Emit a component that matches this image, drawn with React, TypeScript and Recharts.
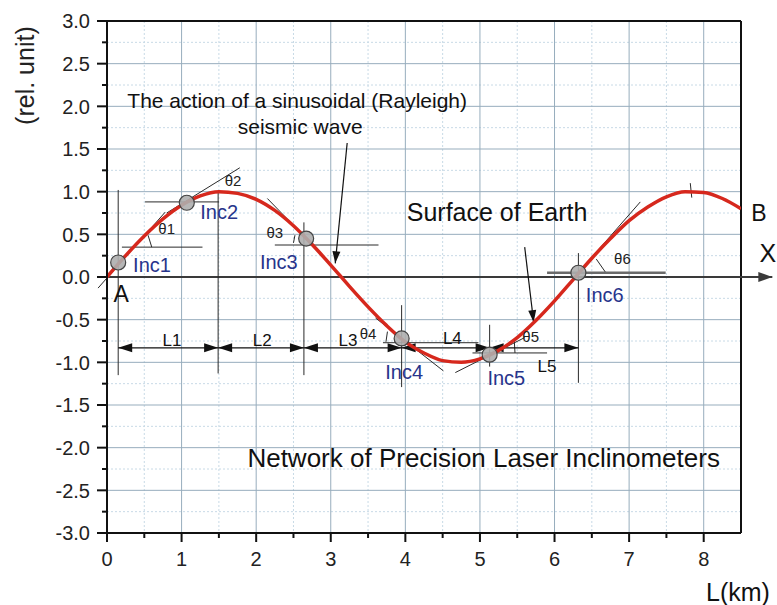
import React from "react";
import {
  ComposedChart,
  Line,
  XAxis,
  YAxis,
  CartesianGrid,
  ReferenceLine,
  ReferenceDot,
} from "recharts";

// wave, 0.25 km step
const waveX = [
  0, 0.25, 0.5, 0.75, 1, 1.25, 1.5, 1.75, 2, 2.25, 2.5, 2.75, 3, 3.25, 3.5,
  3.75, 4, 4.25, 4.5, 4.75, 5, 5.25, 5.5, 5.75, 6, 6.25, 6.5, 6.75, 7, 7.25,
  7.5, 7.75, 8, 8.25, 8.5,
];
const waveY = [
  0, 0.25, 0.48, 0.68, 0.84, 0.95, 1.0, 0.98, 0.91, 0.78, 0.6, 0.38, 0.14,
  -0.11, -0.35, -0.57, -0.76, -0.89, -0.98, -1.0, -0.96, -0.86, -0.71, -0.51,
  -0.28, -0.03, 0.22, 0.45, 0.66, 0.82, 0.94, 1.0, 0.99, 0.92, 0.8,
];

const xTicks = [0, 0.5, 1, 1.5, 2, 2.5, 3, 3.5, 4, 4.5, 5, 5.5, 6, 6.5, 7, 7.5, 8];
const yTicks = [
  -3, -2.75, -2.5, -2.25, -2, -1.75, -1.5, -1.25, -1, -0.75, -0.5, -0.25, 0,
  0.25, 0.5, 0.75, 1, 1.25, 1.5, 1.75, 2, 2.25, 2.5, 2.75, 3,
];
const xMajor = [0, 1, 2, 3, 4, 5, 6, 7, 8];
const xMinor = [0.5, 1.5, 2.5, 3.5, 4.5, 5.5, 6.5, 7.5];
const yMajor = [-3, -2.5, -2, -1.5, -1, -0.5, 0, 0.5, 1, 1.5, 2, 2.5, 3];
const yMinor = [
  -2.75, -2.25, -1.75, -1.25, -0.75, -0.25, 0.25, 0.75, 1.25, 1.75, 2.25, 2.75,
];

// inclinometers
const incNames = ["Inc1", "Inc2", "Inc3", "Inc4", "Inc5", "Inc6"];
const incX = [0.15, 1.07, 2.67, 3.95, 5.13, 6.32];
const incY = [0.17, 0.87, 0.45, -0.72, -0.91, 0.05];
const incLabelX = [0.35, 1.25, 2.05, 3.73, 5.1, 6.42];
const incLabelY = [0.14, 0.76, 0.18, -1.11, -1.18, -0.21];

// thin construction lines (tangents, horizontals, verticals, angle marks)
const thinSegments = [
  [[-0.12, -0.13], [0.78, 0.76]],
  [[0.8, 0.75], [1.78, 1.28]],
  [[2.15, 0.92], [2.75, 0.38]],
  [[3.6, -0.48], [4.51, -1.1]],
  [[4.67, -1.12], [5.6, -0.71]],
  [[6.32, 0.05], [7.15, 0.88]],
  [[0.2, 0.35], [1.28, 0.35]],
  [[0.51, 0.88], [1.5, 0.88]],
  [[2.25, 0.375], [3.64, 0.375]],
  [[3.7, -0.77], [4.98, -0.77]],
  [[4.9, -0.89], [5.9, -0.89]],
  [[0.15, 1.02], [0.15, -1.15]],
  [[1.49, 1.0], [1.49, -1.13]],
  [[2.64, 0.64], [2.64, -1.15]],
  [[3.95, -0.33], [3.95, -1.29]],
  [[5.13, -0.56], [5.13, -1.05]],
  [[6.32, 0.28], [6.32, -1.24]],
  [[0.6, 0.35], [0.55, 0.49]],
  [[2.52, 0.49], [2.5, 0.4]],
  [[3.76, -0.64], [3.74, -0.76]],
  [[5.46, -0.74], [5.47, -0.89]],
  [[6.56, 0.21], [6.68, 0.06]],
  [[7.82, 1.1], [7.84, 0.93]],
];

// L1..L5 dimension arrows
const dimY = -0.83;
const dimBounds = [0.15, 1.49, 2.64, 3.95, 5.13, 6.32];
const dimNames = ["L1", "L2", "L3", "L4", "L5"];
const dimLabelX = [0.87, 2.08, 3.23, 4.63, 5.9];
const dimLabelY = [-0.74, -0.74, -0.74, -0.72, -1.04];

const pointerArrows = [
  [[3.22, 1.57], [3.06, 0.16]],
  [[5.6, 0.35], [5.72, -0.53]],
];

const thetaNames = ["θ1", "θ2", "θ3", "θ4", "θ5", "θ6"];
const thetaX = [0.8, 1.69, 2.25, 3.5, 5.68, 6.91];
const thetaY = [0.56, 1.13, 0.52, -0.66, -0.7, 0.21];

const notes = [
  { x: 2.55, y: 2.07, text: "The action of a sinusoidal (Rayleigh)", size: 21 },
  { x: 2.59, y: 1.76, text: "seismic wave", size: 21 },
  { x: 5.23, y: 0.76, text: "Surface of Earth", size: 25 },
  { x: 5.05, y: -2.12, text: "Network of Precision Laser Inclinometers", size: 26 },
  { x: 0.19, y: -0.2, text: "A", size: 23 },
  { x: 8.74, y: 0.75, text: "B", size: 23 },
  { x: 8.86, y: 0.28, text: "X", size: 25 },
  { x: 8.46, y: -3.7, text: "L(km)", size: 25 },
];

const font = "Arial, 'Liberation Sans', sans-serif";
const data = waveX.map((x, i) => ({ x, y: waveY[i] }));

const arrowShape =
  (both: boolean, color: string, width: number, len = 13, half = 4) =>
  (p: any) => {
    const { x1, y1, x2, y2 } = p;
    const a = Math.atan2(y2 - y1, x2 - x1);
    const head = (x: number, y: number, ang: number) => {
      const bx = x - len * Math.cos(ang);
      const by = y - len * Math.sin(ang);
      return `${x},${y} ${bx - half * Math.sin(ang)},${by + half * Math.cos(ang)} ${
        bx + half * Math.sin(ang)
      },${by - half * Math.cos(ang)}`;
    };
    return (
      <g>
        <line x1={x1} y1={y1} x2={x2} y2={y2} stroke={color} strokeWidth={width} />
        <polygon points={head(x2, y2, a)} fill={color} />
        {both && <polygon points={head(x1, y1, a + Math.PI)} fill={color} />}
      </g>
    );
  };

const textShape =
  (text: string, size: number, color: string, anchor = "middle", rotate = 0) =>
  (p: any) => (
    <text
      x={p.cx}
      y={p.cy}
      dy="0.35em"
      textAnchor={anchor}
      fontSize={size}
      fontFamily={font}
      fill={color}
      transform={rotate ? `rotate(${rotate} ${p.cx} ${p.cy})` : undefined}
    >
      {text}
    </text>
  );

const YTick = (p: any) => {
  const v = p.payload.value;
  const major = Math.abs(v * 2 - Math.round(v * 2)) < 1e-6;
  return (
    <g>
      <line x1={p.x - (major ? 10 : 5)} x2={p.x} y1={p.y} y2={p.y} stroke="#111" strokeWidth={2} />
      {major && (
        <text x={p.x - 17} y={p.y} dy="0.36em" textAnchor="end" fontSize={20} fontFamily={font} fill="#222">
          {v.toFixed(1)}
        </text>
      )}
    </g>
  );
};

const XTick = (p: any) => {
  const v = p.payload.value;
  const major = Math.abs(v - Math.round(v)) < 1e-6;
  return (
    <g>
      <line x1={p.x} x2={p.x} y1={p.y} y2={p.y + (major ? 9 : 5)} stroke="#111" strokeWidth={2} />
      {major && (
        <text x={p.x} y={p.y + 26} dy="0.36em" textAnchor="middle" fontSize={20} fontFamily={font} fill="#222">
          {v}
        </text>
      )}
    </g>
  );
};

export default function App() {
  return (
    <div style={{ position: "absolute", left: 0, top: 0, width: 777, height: 605, background: "#fff" }}>
      <ComposedChart
        width={777}
        height={605}
        data={data}
        margin={{ top: 21, right: 36, bottom: 0, left: 0 }}
      >
        <CartesianGrid
          verticalValues={xMinor}
          horizontalValues={yMinor}
          stroke="#c8dae6"
          strokeDasharray="2 2"
        />
        <CartesianGrid verticalValues={xMajor} horizontalValues={yMajor} stroke="#97adbd" />
        <XAxis
          type="number"
          dataKey="x"
          domain={[0, 8.5]}
          ticks={xTicks}
          interval={0}
          allowDataOverflow
          height={72}
          tickSize={0}
          tickMargin={0}
          tickLine={false}
          tick={<XTick />}
          axisLine={{ stroke: "#111", strokeWidth: 2 }}
        />
        <YAxis
          type="number"
          domain={[-3, 3]}
          ticks={yTicks}
          interval={0}
          allowDataOverflow
          width={107}
          tickSize={0}
          tickMargin={0}
          tickLine={false}
          tick={<YTick />}
          axisLine={{ stroke: "#111", strokeWidth: 2 }}
        />
        <ReferenceLine y={3} stroke="#111" strokeWidth={2} />
        <ReferenceLine x={8.5} stroke="#111" strokeWidth={2} />

        <ReferenceLine
          segment={[{ x: 0, y: 0 }, { x: 8.92, y: 0 }]}
          ifOverflow="visible"
          shape={arrowShape(false, "#3a3a3a", 2, 14, 5)}
        />
        <ReferenceLine
          segment={[{ x: 5.9, y: 0.05 }, { x: 7.49, y: 0.05 }]}
          stroke="#6a6a6a"
          strokeWidth={2.5}
        />

        {thinSegments.map((s, i) => (
          <ReferenceLine
            key={"t" + i}
            segment={[{ x: s[0][0], y: s[0][1] }, { x: s[1][0], y: s[1][1] }]}
            ifOverflow="visible"
            stroke="#2a2a2a"
            strokeWidth={1}
          />
        ))}

        {dimNames.map((n, i) => (
          <ReferenceLine
            key={"d" + n}
            segment={[{ x: dimBounds[i], y: dimY }, { x: dimBounds[i + 1], y: dimY }]}
            shape={arrowShape(true, "#111", 1.2, 14, 4.5)}
          />
        ))}

        {pointerArrows.map((s, i) => (
          <ReferenceLine
            key={"p" + i}
            segment={[{ x: s[0][0], y: s[0][1] }, { x: s[1][0], y: s[1][1] }]}
            shape={arrowShape(false, "#111", 1.2, 12, 4)}
          />
        ))}

        <Line
          dataKey="y"
          type="monotone"
          stroke="#d6281d"
          strokeWidth={3.5}
          dot={false}
          isAnimationActive={false}
        />

        {incNames.map((n, i) => (
          <ReferenceDot
            key={"c" + n}
            x={incX[i]}
            y={incY[i]}
            r={7.5}
            fill="#aeaeae"
            fillOpacity={0.9}
            stroke="#444"
            strokeWidth={1.2}
          />
        ))}
        {incNames.map((n, i) => (
          <ReferenceDot
            key={"l" + n}
            x={incLabelX[i]}
            y={incLabelY[i]}
            r={0}
            ifOverflow="visible"
            shape={textShape(n, 20, "#27348b", "start")}
          />
        ))}
        {thetaNames.map((n, i) => (
          <ReferenceDot
            key={"th" + n}
            x={thetaX[i]}
            y={thetaY[i]}
            r={0}
            ifOverflow="visible"
            shape={textShape(n, 15, "#222")}
          />
        ))}
        {dimNames.map((n, i) => (
          <ReferenceDot
            key={"dl" + n}
            x={dimLabelX[i]}
            y={dimLabelY[i]}
            r={0}
            ifOverflow="visible"
            shape={textShape(n, 17, "#111")}
          />
        ))}
        {notes.map((n, i) => (
          <ReferenceDot
            key={"n" + i}
            x={n.x}
            y={n.y}
            r={0}
            ifOverflow="visible"
            shape={textShape(n.text, n.size, "#111")}
          />
        ))}
        <ReferenceDot
          x={-1.1}
          y={2.36}
          r={0}
          ifOverflow="visible"
          shape={textShape("(rel. unit)", 25, "#222", "middle", -90)}
        />
      </ComposedChart>
    </div>
  );
}
